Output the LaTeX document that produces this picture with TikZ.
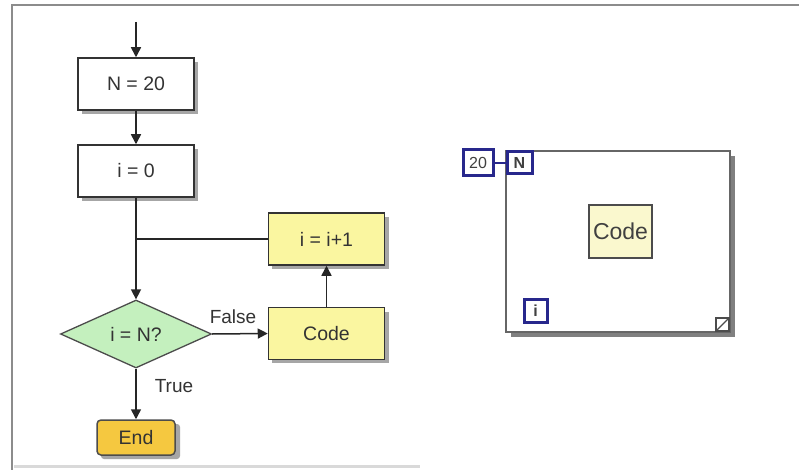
\documentclass[tikz,border=0pt]{standalone}
\usepackage{fontspec}
\setmainfont{Liberation Sans}
\usetikzlibrary{shapes.geometric,arrows.meta}
\definecolor{boxyel}{RGB}{250,246,160}
\definecolor{diagreen}{RGB}{196,240,190}
\definecolor{endgold}{RGB}{245,200,64}
\definecolor{lvblue}{RGB}{40,40,140}
\definecolor{codeyel}{RGB}{250,248,206}
\tikzset{
  fbox/.style={draw=black!80, line width=1.5pt, minimum width=116pt, minimum height=52pt, inner sep=0pt, font=\fontsize{19.5}{23}\selectfont, text=black!80},
  shad/.style={fill=black!35, draw=none},
  arr/.style={draw=black!85, line width=1.5pt, -{Triangle[length=10pt,width=10pt]}},
  conn/.style={draw=black!85, line width=1.5pt},
  lvterm/.style={draw=lvblue, line width=3pt, inner sep=0pt, fill=white, text=black!75},
  lbl/.style={font=\fontsize{19}{22}\selectfont, text=black!80},
}
\begin{document}
\begin{tikzpicture}[x=1pt,y=-1pt]
\useasboundingbox (0,0) rectangle (799,470);
\fill[white] (0,0) rectangle (799,470);
% frame
\draw[black!45, line width=2pt] (12,470) -- (12,5) -- (799,5);
\draw[black!15, line width=3pt] (14,466) -- (420,466);
% shadows
\fill[shad] (82,62) rectangle (198,114);
\fill[shad] (82,149) rectangle (198,201);
\fill[shad] (272,217) rectangle (389,269);
\fill[shad] (272,312) rectangle (389,363);
\fill[shad, rounded corners=3pt] (101,424) rectangle (180,459);
% nodes
\coordinate (start) at (136,22);
\node[fbox, fill=white] (n20) at (136,84) {N = 20};
\node[fbox, fill=white] (i0) at (136,171) {i = 0};
\node[fbox, fill=boxyel] (inc) at (326.5,239) {i = i+1};
\node[fbox, fill=boxyel] (code) at (326.5,333.5) {Code};
\node[diamond, draw=black!70, line width=1.3pt, fill=diagreen, minimum width=151pt, minimum height=68pt, inner sep=0pt, aspect=2.2, font=\fontsize{19.5}{23}\selectfont, text=black!80] (dec) at (136,334) {i = N?};
\node[fbox, fill=endgold, minimum width=78pt, minimum height=35pt, rounded corners=4pt, draw=black!70] (end) at (136,437.5) {End};
\coordinate (j) at (136,239);
% connectors
\draw[arr] (start) -- (n20);
\draw[arr] (n20) -- (i0);
\draw[arr] (i0) -- (dec);
\draw[conn] (inc.west) -- (j);
\draw[arr] (dec.east) -- (code.west);
\draw[arr] (code) -- (inc);
\draw[arr] (dec.south) -- (end);
\node[lbl] (lfalse) at (233,317) {False};
\node[lbl] (ltrue) at (174,386) {True};
% right: for loop
\fill[black!50] (511,156) rectangle (735,337);
\draw[black!60, line width=1.8pt, fill=white] (506,151) rectangle (730,332);
\node[draw=black!70, line width=1.2pt, fill=codeyel, minimum width=63pt, minimum height=53pt, inner sep=0pt, font=\fontsize{23}{27}\selectfont, text=black!75] (coder) at (620.5,231.5) {Code};
\node[lvterm, minimum width=30pt, minimum height=26pt, font=\fontsize{16}{18}\selectfont] (n20r) at (478,163) {20};
\node[lvterm, minimum width=25pt, minimum height=22pt, font=\bfseries\fontsize{16}{18}\selectfont] (nterm) at (519.5,163) {N};
\node[lvterm, minimum width=23pt, minimum height=23pt, font=\bfseries\fontsize{16}{18}\selectfont] (iterm) at (535.5,310.5) {i};
\draw[lvblue, line width=1.8pt] (n20r.east) -- (nterm.west);
\draw[black!70, line width=1.2pt, fill=white] (716,318) rectangle (729,331);
\draw[black!70, line width=1.2pt] (716,331) -- (729,318);
\end{tikzpicture}
\end{document}
